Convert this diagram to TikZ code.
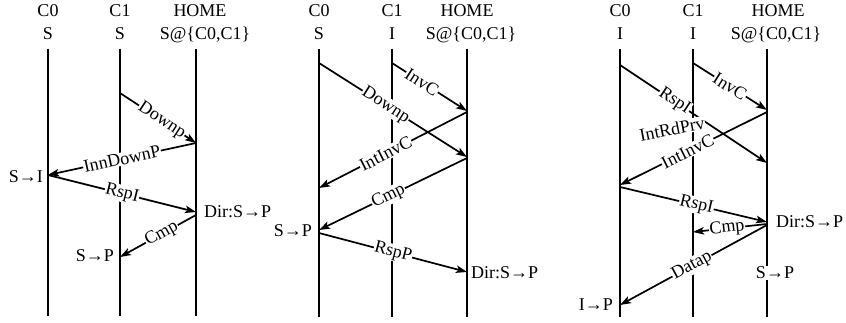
\documentclass[tikz,border=0pt]{standalone}
\usepackage{fontspec}
\setmainfont{Liberation Serif}
\usetikzlibrary{arrows.meta}
\begin{document}
\begin{tikzpicture}[x=1pt,y=-1pt,
  every node/.style={font=\fontsize{18}{21}\selectfont, inner sep=1pt},
  life/.style={line width=1.9pt},
  msg/.style={line width=1.7pt, -{Stealth[length=11pt,width=7.5pt,inset=2.5pt]}},
  lbl/.style={fill=white, sloped, inner sep=0.6pt},
  hdr/.style={anchor=base},
  st/.style={inner sep=1pt}]
\useasboundingbox (0,0) rectangle (846,323);

% ---------------- Panel 1 ----------------
\node[hdr] (h1a) at (48,17) {C0};
\node[hdr] (h1b) at (120,17) {C1};
\node[hdr] (h1c) at (200,17) {HOME};
\node[hdr] (s1a) at (48,40) {S};
\node[hdr] (s1b) at (120,40) {S};
\node[hdr] (s1c) at (205,40) {S@\{C0,C1\}};
\coordinate (t1a) at (48,49);  \coordinate (b1a) at (48,316);
\coordinate (t1b) at (120,49); \coordinate (b1b) at (120,316);
\coordinate (t1c) at (196,49); \coordinate (b1c) at (196,316);
\draw[life] (t1a) -- (b1a);
\draw[life] (t1b) -- (b1b);
\draw[life] (t1c) -- (b1c);

\coordinate (a1) at (120,93);  \coordinate (a2) at (196,143);
\coordinate (a3) at (48,175);  \coordinate (a4) at (196,212);
\coordinate (a5) at (196,215); \coordinate (a6) at (120,257);
\draw[msg] (a1) -- (a2);
\draw[msg] (a2) -- (a3);
\draw[msg] (a3) -- (a4);
\draw[msg] (a5) -- (a6);
\path (a1) -- node[lbl,pos=0.55] (l1) {Downp} (a2);
\path (a2) -- node[lbl,pos=0.5] (l2) {InnDownP} (a3);
\path (a3) -- node[lbl,pos=0.5] (l3) {RspI} (a4);
\path (a5) -- node[lbl,pos=0.45] (l4) {Cmp} (a6);
\node[st,anchor=east] (e1) at (44,177) {S→I};
\node[st,anchor=west] (e2) at (203,212) {Dir:S→P};
\node[st,anchor=east] (e3) at (115,256) {S→P};

% ---------------- Panel 2 ----------------
\node[hdr] (h2a) at (319,17) {C0};
\node[hdr] (h2b) at (392,17) {C1};
\node[hdr] (h2c) at (467,17) {HOME};
\node[hdr] (s2a) at (319,40) {S};
\node[hdr] (s2b) at (392,40) {I};
\node[hdr] (s2c) at (471,40) {S@\{C0,C1\}};
\coordinate (t2a) at (319,49); \coordinate (b2a) at (319,317);
\coordinate (t2b) at (392,49); \coordinate (b2b) at (392,317);
\coordinate (t2c) at (467,49); \coordinate (b2c) at (467,317);
\draw[life] (t2a) -- (b2a);
\draw[life] (t2b) -- (b2b);
\draw[life] (t2c) -- (b2c);

\coordinate (c1) at (392,63);  \coordinate (c2) at (467,111);
\coordinate (c3) at (319,63);  \coordinate (c4) at (467,157);
\coordinate (c5) at (467,112); \coordinate (c6) at (319,188);
\coordinate (c7) at (467,158); \coordinate (c8) at (319,230);
\coordinate (c9) at (319,233); \coordinate (c10) at (467,272);
\draw[msg] (c1) -- (c2);
\draw[msg] (c3) -- (c4);
\draw[msg] (c5) -- (c6);
\draw[msg] (c7) -- (c8);
\draw[msg] (c9) -- (c10);
\path (c1) -- node[lbl,pos=0.4] (m1) {InvC} (c2);
\path (c3) -- node[lbl,pos=0.45] (m2) {Downp} (c4);
\path (c5) -- node[lbl,pos=0.55] (m3) {IntInvC} (c6);
\path (c7) -- node[lbl,pos=0.53] (m4) {Cmp} (c8);
\path (c9) -- node[lbl,pos=0.5] (m5) {RspP} (c10);
\node[st,anchor=east] (f1) at (313,231) {S→P};
\node[st,anchor=west] (f2) at (470,273) {Dir:S→P};

% ---------------- Panel 3 ----------------
\node[hdr] (h3a) at (620,17) {C0};
\node[hdr] (h3b) at (693,17) {C1};
\node[hdr] (h3c) at (778,17) {HOME};
\node[hdr] (s3a) at (620,40) {I};
\node[hdr] (s3b) at (693,40) {I};
\node[hdr] (s3c) at (776,40) {S@\{C0,C1\}};
\coordinate (t3a) at (620,49); \coordinate (b3a) at (620,317);
\coordinate (t3b) at (693,49); \coordinate (b3b) at (693,317);
\coordinate (t3c) at (767,49); \coordinate (b3c) at (767,317);
\draw[life] (t3a) -- (b3a);
\draw[life] (t3b) -- (b3b);
\draw[life] (t3c) -- (b3c);

\coordinate (d1) at (620,65);  \coordinate (d2) at (767,163);
\coordinate (d3) at (693,63);  \coordinate (d4) at (767,110);
\coordinate (d5) at (767,112); \coordinate (d6) at (620,185);
\coordinate (d7) at (620,187); \coordinate (d8) at (767,222);
\coordinate (d9) at (767,224); \coordinate (d10) at (693,232);
\coordinate (d11) at (767,225); \coordinate (d12) at (620,305);
\draw[msg] (d1) -- (d2);
\draw[msg] (d3) -- (d4);
\draw[msg] (d5) -- (d6);
\draw[msg] (d7) -- (d8);
\draw[msg] (d9) -- (d10);
\draw[msg] (d11) -- (d12);
\path (d1) -- node[lbl,pos=0.37] (n1) {RspI} (d2);
\path (d3) -- node[lbl,pos=0.5] (n2) {InvC} (d4);
\node[fill=white,inner sep=0.6pt,rotate=11] (n3) at (672,129) {IntRdPrv};
\path (d5) -- node[lbl,pos=0.54] (n4) {IntInvC} (d6);
\path (d7) -- node[lbl,pos=0.52] (n5) {RspI} (d8);
\path (d9) -- node[lbl,pos=0.54] (n6) {Cmp} (d10);
\path (d11) -- node[lbl,pos=0.51] (n7) {Datap} (d12);
\node[st,anchor=west] (g1) at (775,222) {Dir:S→P};
\node[st,fill=white] (g2) at (775,273) {S→P};
\node[st,anchor=east] (g3) at (614,305) {I→P};
\end{tikzpicture}
\end{document}
